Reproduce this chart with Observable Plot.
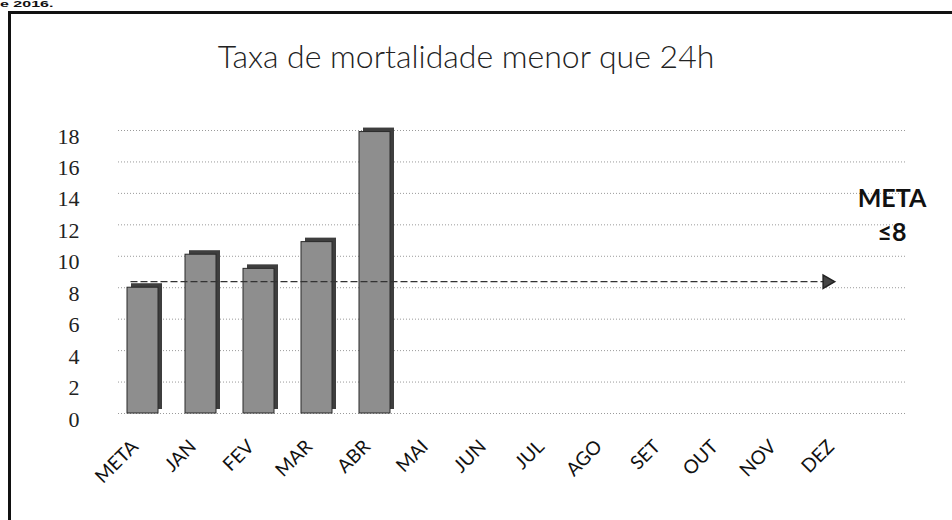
<!DOCTYPE html>
<html>
<head>
<meta charset="utf-8">
<script src="https://cdn.jsdelivr.net/npm/d3@7"></script>
<script src="https://cdn.jsdelivr.net/npm/@observablehq/plot@0.6"></script>
<style>
  html, body { margin: 0; padding: 0; background: #fff; }
  #wrap { position: relative; width: 952px; height: 520px; overflow: hidden; background: #fff; }
  #border { position: absolute; left: 8px; top: 11px; width: 960px; height: 530px;
            border-left: 3px solid #111; border-top: 3px solid #111; }
  #cut { position: absolute; left: 0; top: 0; height: 10px; white-space: nowrap;
         font: bold 16px "Liberation Sans", sans-serif; line-height: 16px; color: #111;
         transform: scaleY(0.55); transform-origin: 0 0; }
  #title { position: absolute; left: 0; width: 932px; top: 36px; text-align: center;
           font: 300 32px Lato, "Open Sans", sans-serif; color: #222; }
  #meta { position: absolute; left: 842px; width: 100px; top: 180px; text-align: center;
          font: bold 25px Lato, "Open Sans", sans-serif; line-height: 34px; color: #111; }
  #chart { position: absolute; left: 0; top: 0; }
</style>
</head>
<body>
<div id="wrap">
  <div id="cut">e 2016.</div>
  <div id="border"></div>
  <div id="title">Taxa de mortalidade menor que 24h</div>
  <div id="chart"></div>
  <div id="meta">META<br>≤8</div>
</div>
<script>
const months = ["META","JAN","FEV","MAR","ABR","MAI","JUN","JUL","AGO","SET","OUT","NOV","DEZ"];
const barCats = ["META","JAN","FEV","MAR","ABR"];
const barValues = [8, 10.1, 9.2, 10.9, 17.9];
const yTicks = [0,2,4,6,8,10,12,14,16,18];
const target = 8;
const targetStart = "META";
const targetEnd = "DEZ";

const bars = barCats.map((c, i) => ({month: c, value: barValues[i]}));
const targetLine = [{month: targetStart, value: target}, {month: targetEnd, value: target}];

const chart = Plot.plot({
  width: 952,
  height: 520,
  marginLeft: 118,
  marginRight: 45,
  marginTop: 130,
  marginBottom: 107,
  style: {background: "transparent", overflow: "visible"},
  x: {domain: months, range: [97, 883], padding: 0.47, label: null},
  y: {domain: [0, 18], label: null},
  marks: [
    Plot.ruleY(yTicks, {stroke: "#9a9a9a", strokeWidth: 1, strokeDasharray: "1,2"}),
    Plot.barY(bars, {x: "month", y: "value", fill: "#3e3e3e", dx: 4, dy: -4}),
    Plot.barY(bars, {x: "month", y: "value", fill: "#8e8e8e", stroke: "#2a2a2a", strokeWidth: 1}),
    Plot.line(targetLine, {x: "month", y: "value", stroke: "#333", strokeWidth: 1.3, strokeDasharray: "6,4", dy: -6, dx: -12}),
    Plot.dot([targetLine[1]], {x: "month", y: "value", symbol: "triangle", rotate: 90, r: 5, fill: "#444", stroke: "#222", dy: -6, dx: -12}),
    Plot.axisY(yTicks, {tickSize: 0, tickPadding: 39, dy: 6, fontSize: 22, fontFamily: "Liberation Serif, serif", fill: "#222"}),
    Plot.axisX({tickSize: 0, tickPadding: 30, dx: -8, tickRotate: -45, fontSize: 19, fontFamily: "Lato, sans-serif", fill: "#111"})
  ]
});
document.getElementById("chart").appendChild(chart);
</script>
</body>
</html>
